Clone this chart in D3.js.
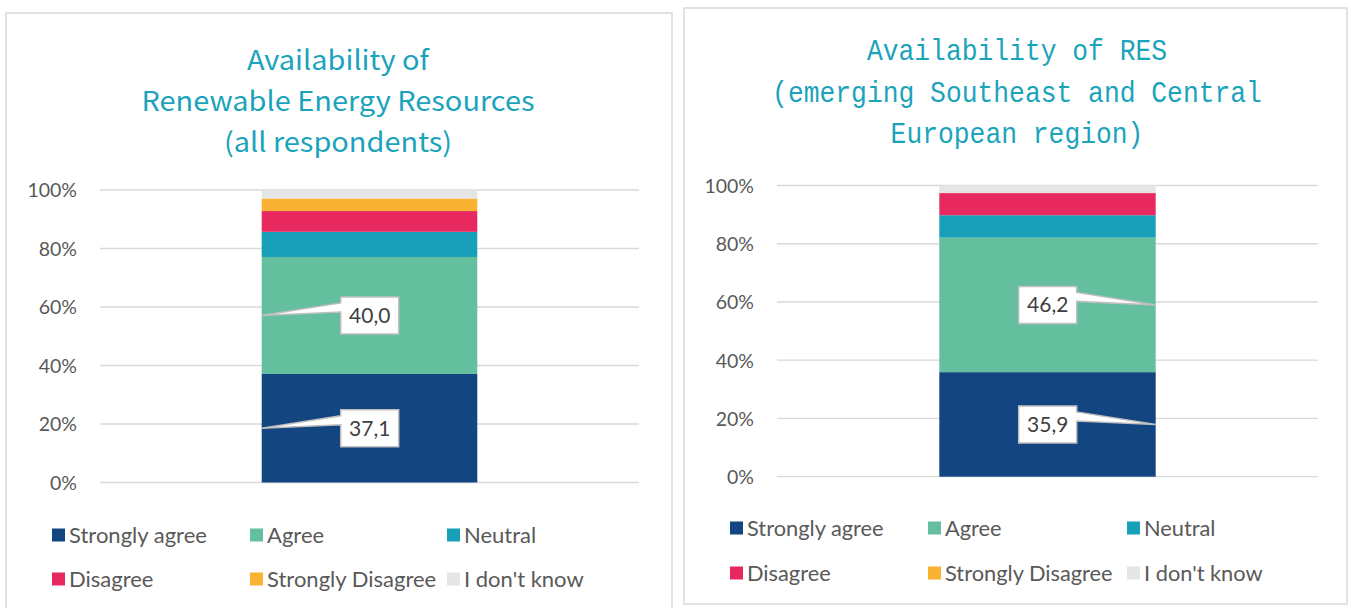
<!DOCTYPE html>
<html><head><meta charset="utf-8">
<script src="https://cdn.jsdelivr.net/npm/d3@7"></script>
<style>html,body{margin:0;padding:0;background:#fff;}svg{display:block;}</style>
</head><body>
<svg id="c" width="1351" height="608"></svg>
<script>
const categories = ["Strongly agree","Agree","Neutral","Disagree","Strongly Disagree","I don't know"];
const allRespondents = [37.1, 40.0, 8.6, 7.1, 4.3, 2.9];
const seeRegion = [35.9, 46.2, 7.7, 7.6, 0.0, 2.6];
const yTicks = [0, 20, 40, 60, 80, 100];
const colors = ["#134581","#64bf9f","#19a0b9","#e8295f","#fab233","#e5e5e5"];
const titleLeft = ["Availability of","Renewable Energy Resources","(all respondents)"];
const titleRight = ["Availability of RES","(emerging Southeast and Central","European region)"];
const labelFmt = v => v.toFixed(1).replace(".", ",");

const svg = d3.select("#c");

function panel(cfg){
  const g = svg.append("g");
  g.append("rect").attr("x",cfg.px).attr("y",cfg.py).attr("width",cfg.pw).attr("height",cfg.ph)
    .attr("fill","#fff").attr("stroke","#d9d9d9").attr("stroke-width",1.5);

  // title
  const tnodes = cfg.title.map((t,i)=>{
    const tx = g.append("text").attr("x",cfg.tcx).attr("y",cfg.tbase[i]).attr("text-anchor","middle")
      .attr("fill","#1ba3bc").text(t);
    if(cfg.mono){
      tx.attr("font-family","'Liberation Mono', monospace").attr("font-size",30)
        .attr("textLength", t.length*cfg.charW).attr("lengthAdjust","spacingAndGlyphs");
    } else {
      tx.attr("font-family","'Noto Sans CJK JP', 'Noto Sans', sans-serif").attr("font-size",cfg.tsize);
    }
    return tx;
  });
  if(!cfg.mono){
    const ref = tnodes[cfg.tRefLine].node().getComputedTextLength();
    const k = cfg.tRefWidth / ref;
    tnodes.forEach(tx=>{
      const w = tx.node().getComputedTextLength();
      tx.attr("textLength", w*k).attr("lengthAdjust","spacingAndGlyphs");
    });
  }

  const y = d3.scaleLinear().domain([0,100]).range([cfg.y0, cfg.y1]);
  const x = d3.scaleBand().domain(["a"]).range([cfg.x0, cfg.x1]).paddingInner(0.4286).paddingOuter(0.4286);

  // grid
  g.append("g").selectAll("line").data(yTicks).join("line")
    .attr("x1",cfg.x0).attr("x2",cfg.x1).attr("y1",d=>y(d)).attr("y2",d=>y(d))
    .attr("stroke","#d9d9d9").attr("stroke-width",1.3);
  // axis labels
  const ax = g.append("g").attr("transform",`translate(${cfg.labelR},0)`)
    .call(d3.axisLeft(y).tickValues(yTicks).tickFormat(d=>d+"%").tickSize(0).tickPadding(0));
  ax.select(".domain").remove();
  ax.selectAll("text").attr("fill","#595959").attr("font-family","Lato, 'Open Sans', sans-serif")
    .attr("font-size",19.5).attr("dy","0.35em");

  // stacked
  let cum = 0;
  const segs = cfg.values.map((v,i)=>{ const s={i,v,lo:cum,hi:cum+v}; cum+=v; return s; });
  g.append("g").selectAll("rect").data(segs.filter(s=>s.v>0)).join("rect")
    .attr("x",x("a")).attr("width",x.bandwidth())
    .attr("y",d=>y(d.hi)).attr("height",d=>y(d.lo)-y(d.hi))
    .attr("fill",d=>colors[d.i]);

  // callouts for first two series
  segs.slice(0,2).forEach(s=>{
    const ym = y((s.lo+s.hi)/2);
    const bw=58, bh=37;
    let tipX, bx;
    if(cfg.side==="left"){ tipX = x("a"); bx = tipX + 79; }
    else { tipX = x("a")+x.bandwidth(); bx = tipX - 79 - bw; }
    const by = ym - bh/2;
    let p;
    if(cfg.side==="left"){
      p = `M${bx},${by} H${bx+bw} V${by+bh} H${bx} V${by+15} L${tipX},${ym} L${bx},${by+6} Z`;
    } else {
      p = `M${bx},${by} H${bx+bw} V${by+6} L${tipX},${ym} L${bx+bw},${by+15} V${by+bh} H${bx} Z`;
    }
    g.append("path").attr("d",p).attr("fill","#fff").attr("stroke","#bfbfbf").attr("stroke-width",1.5)
      .attr("stroke-linejoin","miter");
    g.append("text").attr("x",bx+bw/2).attr("y",ym).attr("dy","0.36em").attr("text-anchor","middle")
      .attr("fill","#404040").attr("font-family","Lato, 'Open Sans', sans-serif").attr("font-size",21)
      .text(labelFmt(s.v));
  });

  // legend
  categories.forEach((c,i)=>{
    const col = i%3, row = Math.floor(i/3);
    const lx = cfg.legX[col], ly = cfg.legY[row];
    g.append("rect").attr("x",lx).attr("y",ly-6.5).attr("width",13).attr("height",13).attr("fill",colors[i]);
    g.append("text").attr("x",lx+17).attr("y",ly).attr("dy","0.35em").attr("fill","#595959")
      .attr("font-family","Lato, 'Open Sans', sans-serif").attr("font-size",cfg.legSize).text(c);
  });
}

panel({px:6,py:13,pw:666,ph:610, tcx:338, tbase:[70,111,152], tsize:27, mono:false, tRefLine:1, tRefWidth:393,
  title:titleLeft, values:allRespondents, x0:100, x1:639, y0:482.5, y1:190, labelR:77,
  side:"left", legX:[52,250,447], legY:[535,579], legSize:22});
panel({px:684,py:8,pw:663,ph:596, tcx:1017, tbase:[60,101.5,143], charW:15.8, mono:true,
  title:titleRight, values:seeRegion, x0:777, x1:1318, y0:476.7, y1:185.5, labelR:754,
  side:"right", legX:[730,928,1127], legY:[528,573], legSize:21.8});
</script>
</body></html>
